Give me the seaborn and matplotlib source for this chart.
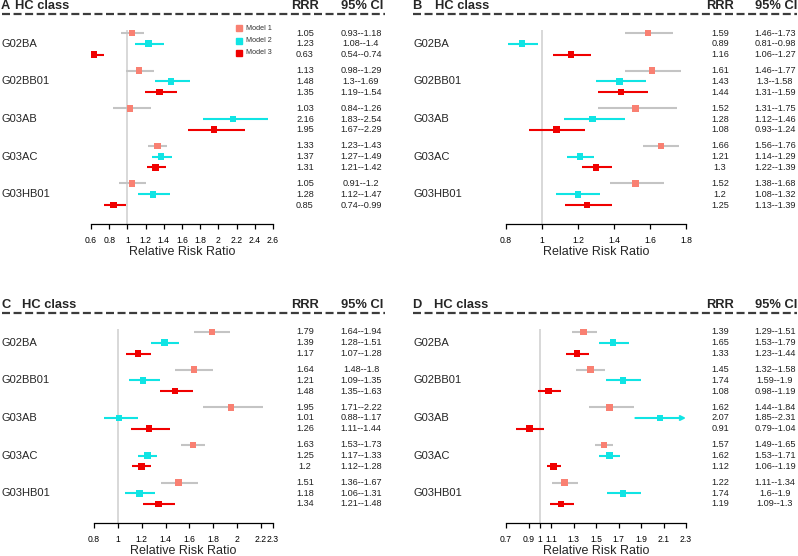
import numpy as np
import pandas as pd
import matplotlib
matplotlib.use("Agg")
import matplotlib.pyplot as plt
import matplotlib.transforms as mtrans
from matplotlib.lines import Line2D
import seaborn as sns

# data
drugs = ["G02BA", "G02BB01", "G03AB", "G03AC", "G03HB01"]
models = ["Model 1", "Model 2", "Model 3"]

rrr_a = [1.05, 1.23, 0.63, 1.13, 1.48, 1.35, 1.03, 2.16, 1.95, 1.33, 1.37, 1.31, 1.05, 1.28, 0.85]
lo_a = [0.93, 1.08, 0.54, 0.98, 1.3, 1.19, 0.84, 1.83, 1.67, 1.23, 1.27, 1.21, 0.91, 1.12, 0.74]
hi_a = [1.18, 1.4, 0.74, 1.29, 1.69, 1.54, 1.26, 2.54, 2.29, 1.43, 1.49, 1.42, 1.2, 1.47, 0.99]

rrr_b = [1.59, 0.89, 1.16, 1.61, 1.43, 1.44, 1.52, 1.28, 1.08, 1.66, 1.21, 1.3, 1.52, 1.2, 1.25]
lo_b = [1.46, 0.81, 1.06, 1.46, 1.3, 1.31, 1.31, 1.12, 0.93, 1.56, 1.14, 1.22, 1.38, 1.08, 1.13]
hi_b = [1.73, 0.98, 1.27, 1.77, 1.58, 1.59, 1.75, 1.46, 1.24, 1.76, 1.29, 1.39, 1.68, 1.32, 1.39]

rrr_c = [1.79, 1.39, 1.17, 1.64, 1.21, 1.48, 1.95, 1.01, 1.26, 1.63, 1.25, 1.2, 1.51, 1.18, 1.34]
lo_c = [1.64, 1.28, 1.07, 1.48, 1.09, 1.35, 1.71, 0.88, 1.11, 1.53, 1.17, 1.12, 1.36, 1.06, 1.21]
hi_c = [1.94, 1.51, 1.28, 1.8, 1.35, 1.63, 2.22, 1.17, 1.44, 1.73, 1.33, 1.28, 1.67, 1.31, 1.48]

rrr_d = [1.39, 1.65, 1.33, 1.45, 1.74, 1.08, 1.62, 2.07, 0.91, 1.57, 1.62, 1.12, 1.22, 1.74, 1.19]
lo_d = [1.29, 1.53, 1.23, 1.32, 1.59, 0.98, 1.44, 1.85, 0.79, 1.49, 1.53, 1.06, 1.11, 1.6, 1.09]
hi_d = [1.51, 1.79, 1.44, 1.58, 1.9, 1.19, 1.84, 2.31, 1.04, 1.65, 1.71, 1.19, 1.34, 1.9, 1.3]

ticks_a = [0.6, 0.8, 1, 1.2, 1.4, 1.6, 1.8, 2, 2.2, 2.4, 2.6]
ticks_b = [0.8, 1, 1.2, 1.4, 1.6, 1.8]
ticks_c = [0.8, 1, 1.2, 1.4, 1.6, 1.8, 2, 2.2, 2.3]
ticks_d = [0.7, 0.9, 1, 1.1, 1.3, 1.5, 1.7, 1.9, 2.1, 2.3]

box_colors = {"Model 1": "#f98072", "Model 2": "#10e4e4", "Model 3": "#f00000"}
line_colors = {"Model 1": "#c4c4c4", "Model 2": "#10e4e4", "Model 3": "#f00000"}

sns.set_style("white")
plt.rcParams["font.family"] = ["Liberation Sans", "DejaVu Sans"]

W, H = 798, 556
fig = plt.figure(figsize=(W / 100, H / 100), dpi=100)


def fx(px):
    return px / W


def fy(py):
    return 1 - py / H


UNIT = 10.75  # pixels per row


def forest(letter, rrr, lo, hi, ticks, x0, x1, left, hc_x, rrr_x, ci_x, dash_x1, top):
    dash_y = top + 14
    row0 = top + 33
    axis_y = top + 224
    ax = fig.add_axes([fx(x0), fy(axis_y), fx(x1) - fx(x0), (axis_y - dash_y) / H])
    df = pd.DataFrame({
        "drug": np.repeat(drugs, 3),
        "model": models * len(drugs),
        "rrr": rrr, "lo": lo, "hi": hi,
    })
    df["pos"] = [g * 3.5 + k for g in range(len(drugs)) for k in range(3)]
    ybot = (axis_y - row0) / UNIT
    ytop = -(row0 - dash_y) / UNIT
    xmin, xmax = ticks[0], ticks[-1]

    ax.vlines(1, -0.3, ybot, color="#d6d6d6", lw=1.3, zorder=0)
    for _, r in df.iterrows():
        c = line_colors[r["model"]]
        if r["hi"] > xmax:
            ax.annotate("", xy=(xmax, r["pos"]), xytext=(r["lo"], r["pos"]),
                        arrowprops=dict(arrowstyle="->", color=c, lw=1.5,
                                        shrinkA=0, shrinkB=0, mutation_scale=7))
        else:
            ax.hlines(r["pos"], r["lo"], r["hi"], color=c, lw=1.5, zorder=1)
    sns.scatterplot(data=df, x="rrr", y="pos", hue="model", palette=box_colors,
                    marker="s", s=22, linewidth=0, legend=False, ax=ax, zorder=3)

    ax.set_xlim(xmin, xmax)
    ax.set_ylim(ybot, ytop)
    for s in ["top", "left", "right"]:
        ax.spines[s].set_visible(False)
    ax.spines["bottom"].set_color("black")
    ax.spines["bottom"].set_linewidth(0.9)
    ax.set_xticks(ticks)
    ax.set_xticklabels([f"{t:g}" for t in ticks], fontsize=6.2)
    ax.tick_params(axis="x", direction="out", length=3.8, width=0.9, pad=4.5,
                   bottom=True, colors="black")
    ax.set_yticks([])
    ax.set_ylabel("")
    ax.set_xlabel("Relative Risk Ratio", fontsize=9, labelpad=1)
    ax.patch.set_alpha(0)

    tr = mtrans.blended_transform_factory(fig.transFigure, ax.transData)
    for g, d in enumerate(drugs):
        ax.text(fx(left), g * 3.5 + 1, d, transform=tr, fontsize=8, ha="left", va="center")
    for _, r in df.iterrows():
        ax.text(fx(rrr_x), r["pos"], f"{r['rrr']:g}", transform=tr, fontsize=6.6,
                ha="center", va="center", color="#222222")
        ax.text(fx(ci_x), r["pos"], f"{r['lo']:g}--{r['hi']:g}", transform=tr,
                fontsize=6.6, ha="center", va="center", color="#222222")

    # header
    hy = fy(dash_y - 8)
    fig.text(fx(left - 1), hy, letter, fontsize=9.3, fontweight="bold", ha="left", va="center")
    fig.text(fx(hc_x), hy, "HC class", fontsize=9.3, fontweight="bold", ha="left", va="center")
    fig.text(fx(rrr_x), hy, "RRR", fontsize=9.3, fontweight="bold", ha="center", va="center")
    fig.text(fx(ci_x + 1), hy, "95% CI", fontsize=9.3, fontweight="bold", ha="center", va="center")
    fig.add_artist(Line2D([fx(left), fx(dash_x1)], [fy(dash_y), fy(dash_y)],
                          transform=fig.transFigure, color="#3c3c3c", lw=1.6,
                          ls=(0, (3.6, 1.6))))
    return ax


forest("A", rrr_a, lo_a, hi_a, ticks_a, 91, 273, 2, 15, 305, 361, 385, 0)
forest("B", rrr_b, lo_b, hi_b, ticks_b, 506, 686, 413, 435, 720, 775, 797, 0)
forest("C", rrr_c, lo_c, hi_c, ticks_c, 94, 273, 2, 22, 305, 361, 385, 299)
forest("D", rrr_d, lo_d, hi_d, ticks_d, 506, 686, 413, 434, 720, 775, 797, 299)

# legend in panel A
for i, m in enumerate(models):
    ly = fy([28, 41, 53][i])
    fig.add_artist(Line2D([fx(239)], [ly], transform=fig.transFigure, marker="s",
                          markersize=4, color=box_colors[m], lw=0))
    fig.text(fx(246), ly, m, fontsize=5.2, ha="left", va="center", color="#333333")

fig.savefig("out.png", dpi=100)
